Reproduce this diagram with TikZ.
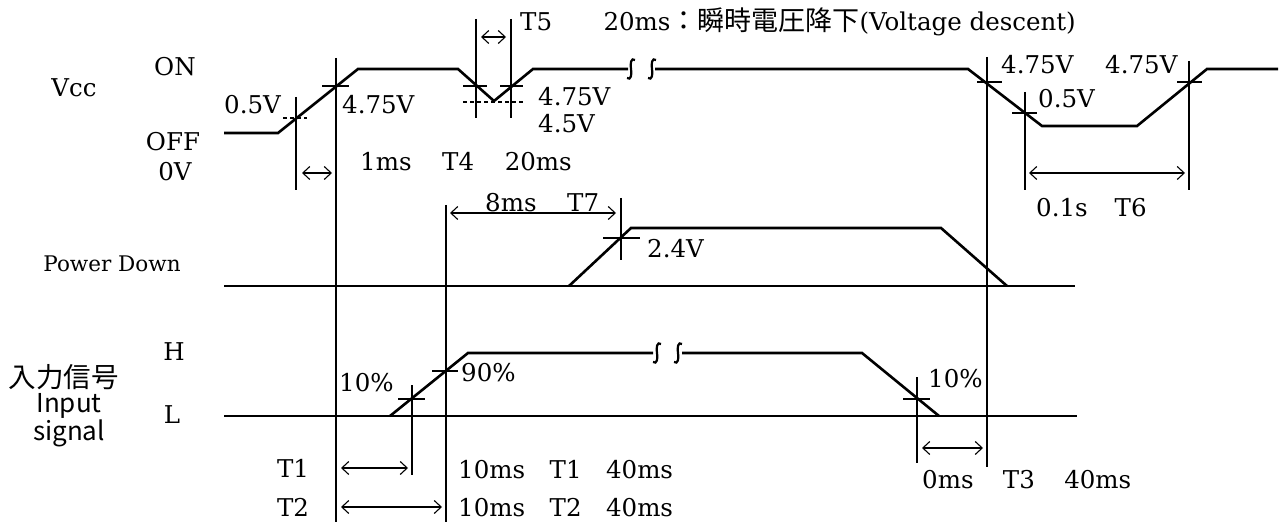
\documentclass[tikz,border=0pt]{standalone}
\usepackage{fontspec}
\setmainfont{DejaVu Serif}
\newfontfamily\cjk{Noto Sans CJK JP}
\usetikzlibrary{arrows.meta}
\newcommand\wgap{\hspace{1.25em}}
\newcommand\ngap{\hspace{1em}}
\begin{document}
\begin{tikzpicture}[x=1pt,y=-1pt,
  wave/.style={line width=2.6pt, line join=miter},
  brk/.style={line width=2.2pt},
  guide/.style={line width=1.1pt},
  tickmark/.style={line width=1.1pt},
  dashmark/.style={line width=1.1pt, dash pattern=on 4pt off 3pt},
  dim/.style={line width=1.1pt, {Straight Barb[length=7pt,width=13pt]}-{Straight Barb[length=7pt,width=13pt]}},
  lbl/.style={inner sep=0pt, font=\fontsize{24.5}{28}\selectfont},
  lft/.style={lbl, anchor=west},
  small/.style={inner sep=0pt, font=\fontsize{21.5}{25}\selectfont},
  sans/.style={inner sep=0pt, text height=0.74em, text depth=0.18em, font=\cjk\fontsize{27}{29}\selectfont},
]
\useasboundingbox (0,0) rectangle (1284,526);

% ---------- Vcc waveform ----------
\draw[wave] (224,133) -- (278,133) -- (358,69) -- (458,69) -- (494,101) -- (533,69) -- (628,69);
\draw[wave] (655,69) -- (968,69) -- (1042,126) -- (1137,126) -- (1207,69) -- (1278,69);
\foreach \x in {631,652}{
  \draw[brk] (\x+4,60) .. controls (\x,57) and (\x-1,64) .. (\x,69) .. controls (\x+1,74) and (\x,81) .. (\x-4,78);
}

% ---------- Power Down waveform ----------
\draw[wave] (224,286) -- (1075,286);
\draw[wave] (569,286) -- (631,228) -- (941,228) -- (1007,286);

% ---------- Input signal waveform ----------
\draw[wave] (224,416) -- (1077,416);
\draw[wave] (390,416) -- (468,353) -- (653,353);
\draw[wave] (682,353) -- (862,353) -- (939,416);
\foreach \x in {657,678}{
  \draw[brk] (\x+4,344) .. controls (\x,341) and (\x-1,348) .. (\x,353) .. controls (\x+1,358) and (\x,365) .. (\x-4,362);
}

% ---------- vertical guide lines ----------
\draw[guide] (336,58) -- (336,522);
\draw[guide] (296,97) -- (296,190);
\draw[guide] (476,19) -- (476,118);
\draw[guide] (511,19) -- (511,118);
\draw[guide] (987,57) -- (987,467);
\draw[guide] (1025,92) -- (1025,190);
\draw[guide] (1189,61) -- (1189,190);
\draw[guide] (446,205) -- (446,522);
\draw[guide] (621,198) -- (621,260);
\draw[guide] (412,385) -- (412,475);
\draw[guide] (917,377) -- (917,463);

% ---------- level marks ----------
\draw[dashmark] (283,118) -- (307,118);
\draw[tickmark] (322,86) -- (349,86);
\draw[tickmark] (463,86) -- (487,86);
\draw[tickmark] (500,86) -- (523,86);
\draw[dashmark] (463,102) -- (523,102);
\draw[tickmark] (977,82) -- (1002,82);
\draw[tickmark] (1012,113) -- (1037,113);
\draw[tickmark] (1177,82) -- (1202,82);
\draw[tickmark] (603,238) -- (640,238);
\draw[tickmark] (398,399) -- (425,399);
\draw[tickmark] (432,371) -- (458,371);
\draw[tickmark] (903,399) -- (930,399);

% ---------- dimension arrows ----------
\coordinate (a1l) at (302,173); \coordinate (a1r) at (332,173);
\coordinate (a5l) at (481,37);  \coordinate (a5r) at (506,37);
\coordinate (a6l) at (1029,173); \coordinate (a6r) at (1185,173);
\coordinate (a7l) at (450,213); \coordinate (a7r) at (616,213);
\coordinate (t1l) at (341,468); \coordinate (t1r) at (408,468);
\coordinate (t2l) at (341,507); \coordinate (t2r) at (442,507);
\coordinate (t3l) at (922,448); \coordinate (t3r) at (983,448);
\draw[dim] (a1l) -- (a1r);
\draw[dim] (a5l) -- (a5r);
\draw[dim] (a6l) -- (a6r);
\draw[dim] (a7l) -- (a7r);
\draw[dim] (t1l) -- (t1r);
\draw[dim] (t2l) -- (t2r);
\draw[dim] (t3l) -- (t3r);

% ---------- labels ----------
\node[lbl] (vcc) at (74,88) {Vcc};
\node[lbl] (on) at (175,67) {ON};
\node[lbl] (off) at (173,142) {OFF};
\node[lbl] (zv) at (175,172) {0V};
\node[lft] (v05a) at (224,105) {0.5V};
\node[lft] (v475a) at (342,105) {4.75V};
\node[lft] (t4) at (360,162) {1ms\wgap T4\wgap 20ms};
\node[lft] (t5) at (520,22) {T5\hspace{2.1em}20ms{\cjk\fontsize{27}{29}\selectfont ：瞬時電圧降下}(Voltage descent)};
\node[lft] (v475b) at (538,97) {4.75V};
\node[lft] (v45) at (538,124) {4.5V};
\node[lft] (v475c) at (1001,65) {4.75V};
\node[lft] (v475d) at (1105,65) {4.75V};
\node[lft] (v05b) at (1038,99) {0.5V};
\node[lft] (t6) at (1036,208) {0.1s\hspace{1.1em}T6};
\node[lft] (t7) at (485,203) {8ms\wgap T7};
\node[small] (pd) at (112,264) {Power Down};
\node[lft] (v24) at (647,249) {2.4V};
\node[lbl] (h) at (174,352) {H};
\node[lbl] (l) at (172,415) {L};
\node[sans, font=\cjk\fontsize{27.5}{30}\selectfont] (jp) at (64,385) {入力信号};
\node[inner sep=0pt, align=center, font=\cjk\fontsize{26}{21}\selectfont] (inp) at (69,420) {Input\\signal};
\node[lft] (p10a) at (339,383) {10\%};
\node[lft] (p90) at (461,373) {90\%};
\node[lft] (p10b) at (928,379) {10\%};
\node[lbl] (t1) at (293,468) {T1};
\node[lbl] (t2) at (293,507) {T2};
\node[lft] (t1v) at (458,470) {10ms\ngap T1\ngap 40ms};
\node[lft] (t2v) at (458,508) {10ms\ngap T2\ngap 40ms};
\node[lft] (t3v) at (922,480) {0ms\hspace{1.2em}T3\hspace{1.2em}40ms};
\end{tikzpicture}
\end{document}
